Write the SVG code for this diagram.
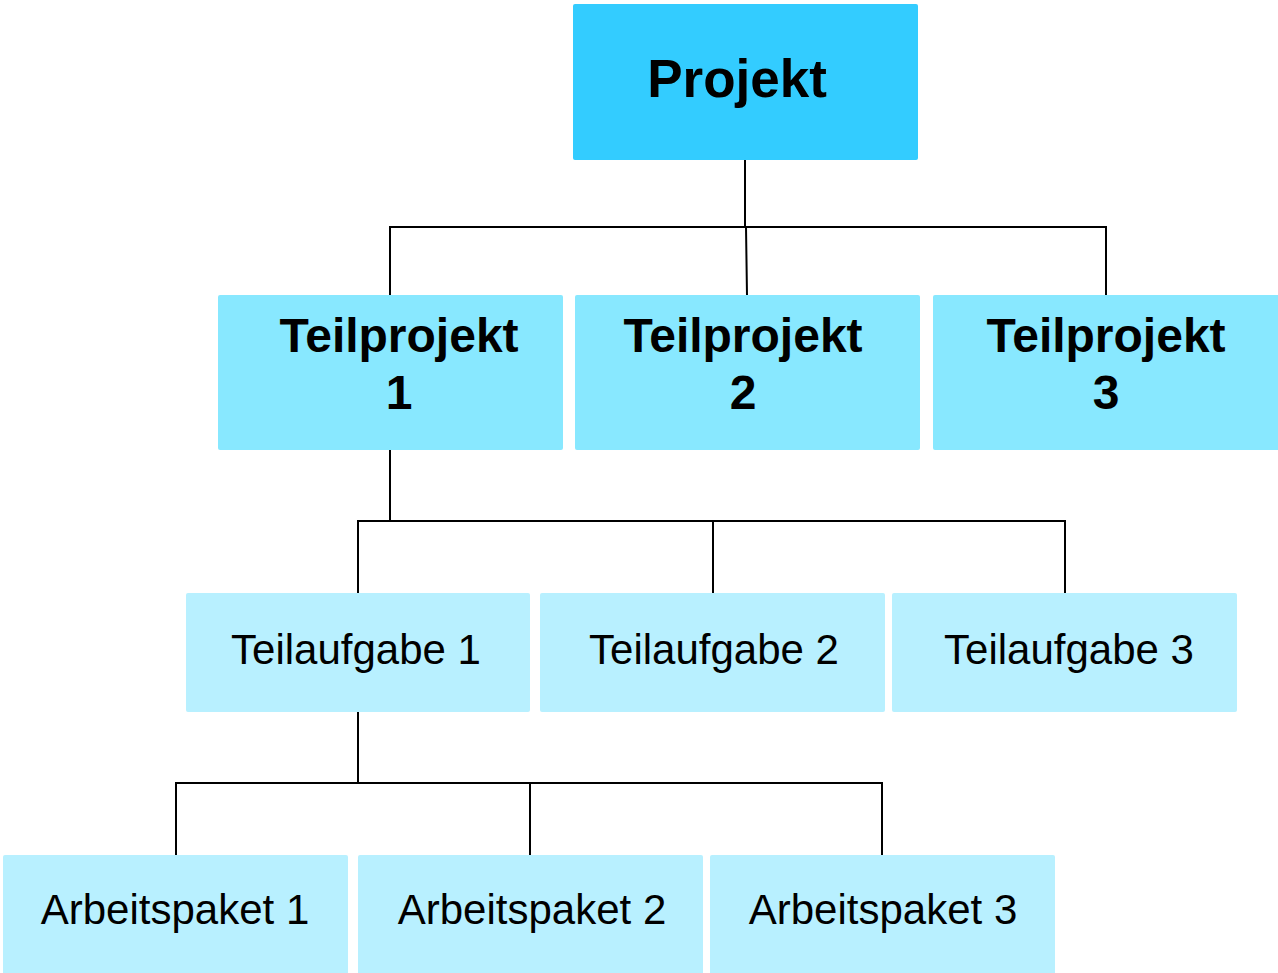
<svg xmlns="http://www.w3.org/2000/svg" width="1278" height="973" viewBox="0 0 1278 973">
  <style>
    .lvl0 { fill: #33ccff; }
    .lvl1 { fill: #88e8ff; }
    .lvl2 { fill: #b8f0ff; }
    .bold { font-family: "Liberation Sans", Arial, sans-serif; font-weight: bold; fill: #000; text-anchor: middle; }
    .reg { font-family: "Liberation Sans", Arial, sans-serif; font-size: 42px; fill: #000; text-anchor: middle; }
    .conn { fill: none; stroke: #000; stroke-width: 2; }
  </style>
  <rect width="1278" height="973" fill="#fff"/>

  <!-- connectors -->
  <g id="connectors" class="conn">
    <path d="M745 160 V227 M746 227 L747 295 M390 295 V227 H1106 V295"/>
    <path d="M390 450 V521 M358 593 V521 H1065 V593 M713 521 V593"/>
    <path d="M358 712 V783 M176 855 V783 H882 V855 M530 783 V855"/>
  </g>

  <!-- top level -->
  <g id="projekt">
    <rect class="lvl0" x="573" y="4" width="345" height="156" rx="2"/>
    <text class="bold" x="737" y="97" font-size="53">Projekt</text>
  </g>

  <!-- sub-projects -->
  <g id="teilprojekt1">
    <rect class="lvl1" x="218" y="295" width="345" height="155" rx="2"/>
    <text class="bold" x="399" y="352" font-size="48">Teilprojekt</text>
    <text class="bold" x="399" y="409" font-size="48">1</text>
  </g>
  <g id="teilprojekt2">
    <rect class="lvl1" x="575" y="295" width="345" height="155" rx="2"/>
    <text class="bold" x="743" y="352" font-size="48">Teilprojekt</text>
    <text class="bold" x="743" y="409" font-size="48">2</text>
  </g>
  <g id="teilprojekt3">
    <rect class="lvl1" x="933" y="295" width="347" height="155" rx="2"/>
    <text class="bold" x="1106" y="352" font-size="48">Teilprojekt</text>
    <text class="bold" x="1106" y="409" font-size="48">3</text>
  </g>

  <!-- sub-tasks -->
  <g id="teilaufgabe1">
    <rect class="lvl2" x="186" y="593" width="344" height="119" rx="2"/>
    <text class="reg" x="356" y="664">Teilaufgabe 1</text>
  </g>
  <g id="teilaufgabe2">
    <rect class="lvl2" x="540" y="593" width="345" height="119" rx="2"/>
    <text class="reg" x="714" y="664">Teilaufgabe 2</text>
  </g>
  <g id="teilaufgabe3">
    <rect class="lvl2" x="892" y="593" width="345" height="119" rx="2"/>
    <text class="reg" x="1069" y="664">Teilaufgabe 3</text>
  </g>

  <!-- work packages -->
  <g id="arbeitspaket1">
    <rect class="lvl2" x="3" y="855" width="345" height="122" rx="2"/>
    <text class="reg" x="175" y="924">Arbeitspaket 1</text>
  </g>
  <g id="arbeitspaket2">
    <rect class="lvl2" x="358" y="855" width="345" height="122" rx="2"/>
    <text class="reg" x="532" y="924">Arbeitspaket 2</text>
  </g>
  <g id="arbeitspaket3">
    <rect class="lvl2" x="710" y="855" width="345" height="122" rx="2"/>
    <text class="reg" x="883" y="924">Arbeitspaket 3</text>
  </g>
</svg>
